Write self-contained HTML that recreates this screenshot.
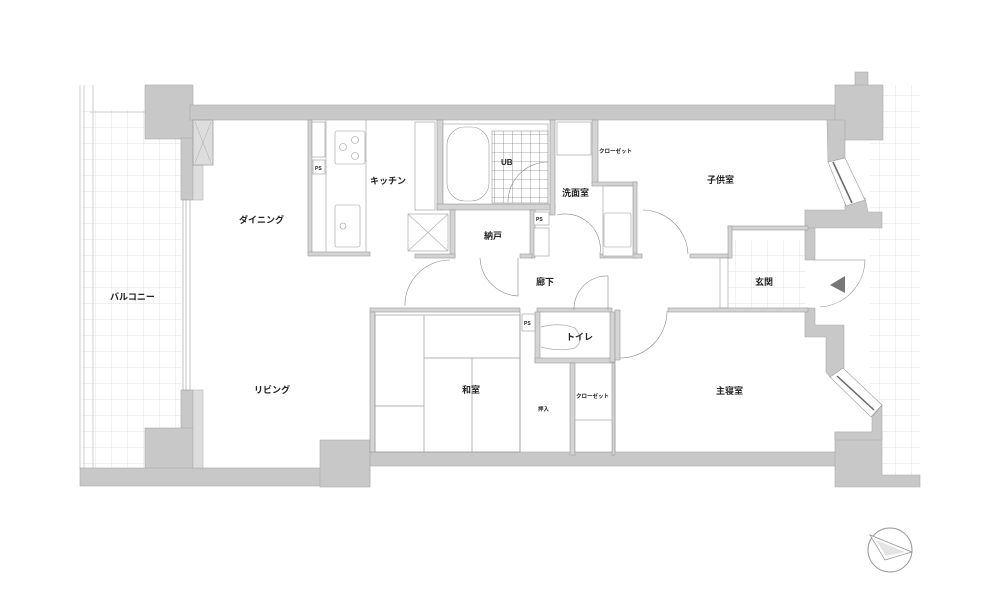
<!DOCTYPE html>
<html><head><meta charset="utf-8"><style>
html,body{margin:0;padding:0;background:#fff;}
svg{display:block;}
text{font-family:"Liberation Sans","Noto Sans CJK JP",sans-serif;font-weight:bold;fill:#222;}
</style></head><body>
<svg width="1000" height="600" viewBox="0 0 1000 600" xmlns="http://www.w3.org/2000/svg">
<defs>
<pattern id="tile" width="16" height="16" patternUnits="userSpaceOnUse">
<path d="M16 0V16M0 16H16" stroke="#e2e2e2" stroke-width="1" fill="none"/>
</pattern>
<pattern id="tile2" width="9" height="9" patternUnits="userSpaceOnUse">
<path d="M9 0V9M0 9H9" stroke="#555" stroke-width="0.6" fill="none"/>
</pattern>
</defs>
<rect x="82" y="110" width="100" height="360" fill="url(#tile)"/>
<line x1="80" y1="85" x2="80" y2="470" stroke="#ccc"/>
<line x1="84" y1="85" x2="84" y2="470" stroke="#ccc"/>
<line x1="93" y1="85" x2="93" y2="470" stroke="#ccc"/>
<line x1="90" y1="112" x2="145" y2="112" stroke="#ccc"/>
<rect x="870" y="85" width="50" height="390" fill="url(#tile)"/>
<rect x="728" y="240" width="77" height="68" fill="url(#tile)"/>

<g fill="#c8c8c8" stroke="#aaa" stroke-width="0.6">
<rect x="145" y="85" width="48" height="54"/>
<rect x="190" y="105" width="645" height="15"/>
<rect x="181" y="138" width="12" height="62"/>
<rect x="181" y="390" width="12" height="45"/>
<rect x="145" y="428" width="48" height="42"/>
<rect x="80" y="468" width="290" height="18"/>
<rect x="320" y="440" width="50" height="47"/>
<rect x="370" y="452" width="470" height="14"/>
<polygon points="835,432 882,432 882,475 920,475 920,487 835,487"/>
<polygon points="805,308 815,308 815,325 844,325 844,368 830,377 826,372 826,337 805,337"/>
<polygon points="872,417 882,405 882,440 835,440 835,432 872,432"/>
<rect x="855" y="72" width="13" height="15"/>
<rect x="835" y="85" width="48" height="55"/>
<polygon points="827,120 845,120 845,158 828,162"/>
<polygon points="845,203 865,198 868,212 882,212 882,228 805,228 805,210 845,210"/>
<rect x="805" y="228" width="10" height="32"/>
</g>
<g fill="#ddd" stroke="#aaa" stroke-width="0.5">
<rect x="193" y="165" width="10" height="35"/>
<rect x="193" y="390" width="10" height="78"/>
<rect x="193" y="120" width="20" height="45"/>
</g>
<g fill="#fff" stroke="#999" stroke-width="0.6">
<rect x="183" y="200" width="7" height="190"/>
<line x1="186" y1="200" x2="186" y2="390"/>
<polygon points="828,162 845,158 865,200 846,206"/>
<polygon points="830,377 843,368 882,405 871,417"/>
</g>
<line x1="833" y1="162" x2="852" y2="203" stroke="#666" stroke-width="1.5"/>
<line x1="837" y1="376" x2="874" y2="410" stroke="#666" stroke-width="1.5"/>
<rect x="193" y="120" width="20" height="45" fill="none" stroke="#999" stroke-width="0.6"/>
<path d="M195 122L211 163M211 122L195 163" stroke="#aaa" stroke-width="0.5"/>

<g fill="#d4d4d4" stroke="#999" stroke-width="0.6">
<rect x="437" y="120" width="6" height="90"/>
<rect x="437" y="204" width="118" height="6"/>
<rect x="550" y="120" width="5" height="95"/>
<rect x="592" y="120" width="6" height="65"/>
<rect x="592" y="182" width="45" height="4"/>
<rect x="633" y="182" width="4" height="76"/>
<rect x="450" y="210" width="5" height="48"/>
<rect x="530" y="210" width="5" height="48"/>
<rect x="415" y="254" width="40" height="4"/>
<rect x="520" y="254" width="12" height="4"/>
<rect x="600" y="254" width="42" height="4"/>
<rect x="690" y="254" width="40" height="4"/>
<rect x="728" y="226" width="80" height="4"/>
<rect x="728" y="226" width="4" height="32"/>
<rect x="720" y="258" width="8" height="50" fill="#fff"/>
<rect x="370" y="308" width="150" height="4"/>
<rect x="537" y="308" width="75" height="4"/>
<rect x="668" y="308" width="140" height="4"/>
<rect x="535" y="312" width="5" height="50"/>
<rect x="535" y="358" width="80" height="5"/>
<rect x="610" y="312" width="5" height="50"/>
<rect x="570" y="363" width="5" height="92"/>
<rect x="612" y="363" width="3" height="92"/>
<rect x="615" y="310" width="5" height="50"/>
<rect x="370" y="312" width="5" height="140"/>
<rect x="308" y="120" width="4" height="135"/>
<rect x="308" y="252" width="62" height="4"/>
</g>
<g fill="#fff" stroke="#999" stroke-width="0.6">
<rect x="312" y="122" width="13" height="35"/>
<rect x="313" y="160" width="12" height="14"/>
<line x1="326" y1="120" x2="326" y2="252"/>
<line x1="366" y1="120" x2="366" y2="252"/>
<rect x="335" y="131" width="30" height="33" rx="2"/>
<circle cx="343" cy="147" r="3.5"/><circle cx="355" cy="140" r="3.5"/><circle cx="355" cy="156" r="3.5"/>
<rect x="335" y="205" width="25" height="42" rx="2"/>
<circle cx="343" cy="226" r="3"/>
<rect x="415" y="122" width="20" height="88"/>
<rect x="408" y="214" width="40" height="37"/>
<path d="M408 214L448 251M448 214L408 251" stroke="#aaa"/>
<rect x="443" y="124" width="105" height="80"/>
<rect x="447" y="127" width="42" height="74" rx="18"/>
<rect x="492" y="131" width="56" height="72" fill="url(#tile2)"/>
<rect x="557" y="122" width="34" height="33"/>
<rect x="603" y="186" width="30" height="70"/>
<rect x="604" y="213" width="27" height="34" rx="2"/>
<rect x="534" y="212" width="15" height="13"/>
<rect x="534" y="228" width="15" height="28"/>
<rect x="522" y="314" width="13" height="17"/>
<rect x="575" y="420" width="37" height="32"/>
</g>
<g fill="none" stroke="#999" stroke-width="0.7">
<rect x="375" y="315" width="145" height="137"/>
<line x1="424" y1="315" x2="424" y2="452"/>
<line x1="424" y1="358" x2="520" y2="358"/>
<line x1="375" y1="406" x2="424" y2="406"/>
<line x1="472" y1="358" x2="472" y2="452"/>
<line x1="520" y1="312" x2="520" y2="452"/>
<line x1="615" y1="365" x2="615" y2="452"/>
<path d="M541 327Q560 322 575 328Q585 340 575 348Q560 352 541 347" stroke="#aaa"/>
</g>
<g fill="none" stroke="#888" stroke-width="0.6">
<path d="M480 258 A40 40 0 0 0 518 296 L518 258"/>
<path d="M405 306 A45 45 0 0 1 450 260"/>
<path d="M557 215 A35 35 0 0 1 600 254"/>
<path d="M508 202 A40 40 0 0 1 548 162"/>
<path d="M643 210 A46 46 0 0 1 688 254"/>
<path d="M574 310 A33 33 0 0 1 608 276 L608 310"/>
<path d="M620 358 A47 47 0 0 0 667 311"/>
<path d="M815 260 H865 A48 48 0 0 1 820 307"/>
</g>
<polygon points="830,285 845,276 845,293" fill="#777"/>
<circle cx="890" cy="550" r="22" fill="#fff" stroke="#999"/>
<polygon points="870,535 912,552 885,560" fill="#fff" stroke="#888" stroke-width="0.7"/>
<polygon points="876,540 905,552 886,556" fill="#e4e4e4"/>
<g font-size="9">
<text x="110" y="300">バルコニー</text>
<text x="239" y="223">ダイニング</text>
<text x="370" y="184">キッチン</text>
<text x="254" y="393">リビング</text>
<text x="462" y="393">和室</text>
<text x="501" y="165" font-size="8">UB</text>
<text x="562" y="196">洗面室</text>
<text x="707" y="183">子供室</text>
<text x="484" y="239">納戸</text>
<text x="536" y="285">廊下</text>
<text x="755" y="285">玄関</text>
<text x="566" y="340">トイレ</text>
<text x="716" y="394">主寝室</text>
</g>
<text x="599" y="153" font-size="5.5">クローゼット</text>
<text x="576" y="398" font-size="5.5">クローゼット</text>
<text x="538" y="411" font-size="5.5">押入</text>
<text x="315" y="170" font-size="5">PS</text>
<text x="536" y="221" font-size="5">PS</text>
<text x="524" y="325" font-size="5">PS</text>
</svg>
</body></html>
